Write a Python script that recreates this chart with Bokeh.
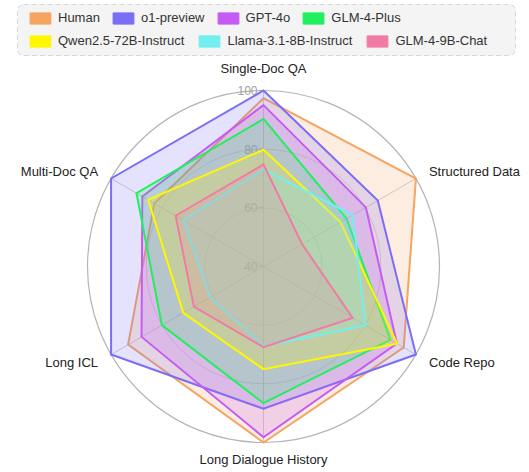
import math
from bokeh.plotting import figure
from bokeh.models import Range1d, Legend, LegendItem, BoxAnnotation
from bokeh.embed import file_html
from bokeh.resources import INLINE

# ---------------- data ----------------
categories = ["Single-Doc QA", "Structured Data", "Code Repo",
              "Long Dialogue History", "Long ICL", "Multi-Doc QA"]
models = ["Human", "o1-preview", "GPT-4o", "GLM-4-Plus",
          "Qwen2.5-72B-Instruct", "Llama-3.1-8B-Instruct", "GLM-4-9B-Chat"]
human = [97.4, 100, 95.2, 100, 93.3, 83]
o1_preview = [100, 85, 100, 88.5, 100, 100]
gpt_4o = [95, 80.3, 92.5, 98.2, 88, 87.7]
glm_4_plus = [90.3, 72.7, 90, 86.6, 80, 90]
qwen = [79.8, 70.3, 92.6, 75, 71.6, 85.4]
llama = [73.1, 75.1, 80.2, 67.2, 61, 71.6]
glm_4_9b = [74.8, 55.2, 75.1, 67.5, 67.4, 74.6]
series = [human, o1_preview, gpt_4o, glm_4_plus, qwen, llama, glm_4_9b]
colors = ["#F5A462", "#7B6EF6", "#C55BF5", "#20F060", "#FFF700", "#72EFEF", "#F07CA5"]
tick_values = [40, 60, 80, 100]
r_min, r_max = 40, 100

# ---------------- geometry ----------------
W, H = 527, 470
CX, CY = 263, 266                  # centre in canvas px
R = 176.0                          # radius of the 100 ring in px


def rad(v):
    return (v - r_min) / (r_max - r_min) * R


angles = [math.pi / 2 - i * math.pi / 3 for i in range(len(categories))]

p = figure(width=W, height=H, output_backend="svg", toolbar_location=None,
           x_axis_type=None, y_axis_type=None,
           x_range=Range1d(-CX, W - CX), y_range=Range1d(-(H - CY), CY),
           min_border=0, min_border_left=0, min_border_right=0,
           min_border_top=0, min_border_bottom=0)
p.outline_line_color = None
p.grid.visible = False
p.background_fill_color = "white"

# rings
for tv in tick_values[1:]:
    outer = tv == r_max
    p.circle(x=[0], y=[0], radius=rad(tv), fill_alpha=0,
             line_color="#B4B4B4" if outer else "#DADADA",
             line_width=1.2 if outer else 1)

# spokes
p.segment(x0=[0] * 6, y0=[0] * 6,
          x1=[R * math.cos(a) for a in angles],
          y1=[R * math.sin(a) for a in angles],
          line_color="#CFCFCF", line_width=1)

# radial tick labels
p.segment(x0=[-5] * len(tick_values), x1=[0] * len(tick_values),
          y0=[rad(t) for t in tick_values], y1=[rad(t) for t in tick_values],
          line_color="#AAAAAA", line_width=1)
p.text(x=[-6] * len(tick_values), y=[rad(t) for t in tick_values],
       text=[str(t) for t in tick_values], text_align="right",
       text_baseline="middle", text_color="#A0A0A0", text_font_size="12px",
       text_font={"value": "Liberation Sans"})

# series polygons
for vals, col in zip(series, colors):
    xs = [rad(v) * math.cos(a) for v, a in zip(vals, angles)]
    ys = [rad(v) * math.sin(a) for v, a in zip(vals, angles)]
    p.patch(x=xs + [xs[0]], y=ys + [ys[0]], fill_color=col, fill_alpha=0.2,
            line_color=col, line_width=2, line_join="miter")

# category labels
lab_x, lab_y, aligns, bases = [], [], [], []
for a in angles:
    c, s = math.cos(a), math.sin(a)
    if abs(c) < 1e-6:
        LR = R + (15 if s > 0 else 9)
        aligns.append("center")
        bases.append("bottom" if s > 0 else "top")
    else:
        LR = R + 15
        aligns.append("left" if c > 0 else "right")
        bases.append("middle")
    lab_x.append(LR * c)
    lab_y.append(LR * s)
p.text(x=lab_x, y=lab_y, text=categories, text_align=aligns,
       text_baseline=bases, text_color="#222222", text_font_size="13px",
       text_font={"value": "Liberation Sans"})

# legend frame
box = BoxAnnotation(left=17 - CX, right=515 - CX,
                    top=CY - 4, bottom=CY - 55,
                    fill_color="#F4F4F4", fill_alpha=1,
                    line_color="#8A8A8A", line_dash="5 3", line_width=1,
                    border_radius=6)
p.add_layout(box)

# legend swatch renderers (solid, zero-area so nothing shows in the plot)
sw = []
for col in colors:
    r = p.quad(left=[0], right=[0], top=[0], bottom=[0], fill_color=col,
               fill_alpha=1, line_color=col, line_alpha=1, line_width=1,
               border_radius=3)
    sw.append(r)

row1 = [LegendItem(label=models[i], renderers=[sw[i]]) for i in range(4)]
row2 = [LegendItem(label=models[i], renderers=[sw[i]]) for i in range(4, 7)]
for items, yb, sp in ((row1, H - 25, 10), (row2, H - 48, 12)):
    lg = Legend(items=items, orientation="horizontal", location=(27, yb),
                glyph_width=26, glyph_height=14, label_standoff=5, spacing=sp,
                padding=0, margin=0, border_line_alpha=0,
                background_fill_alpha=0, label_text_font="Liberation Sans",
                label_text_font_size="13px", label_text_color="#333333",
                label_height=15)
    p.add_layout(lg)

open("out.html", "w").write(file_html(p, INLINE))
